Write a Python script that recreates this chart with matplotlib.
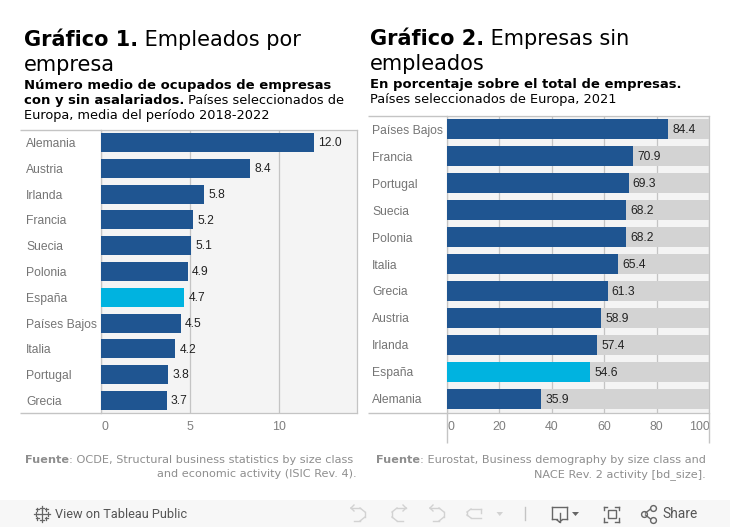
import matplotlib
matplotlib.use("Agg")
import matplotlib.pyplot as plt
from matplotlib.patches import Rectangle, Polygon
from matplotlib.lines import Line2D
from matplotlib.transforms import ScaledTranslation

W, H = 730, 527
BLUE = "#1f5591"; CYAN = "#00b3e0"; PANEL = "#f4f4f4"; REST = "#d3d3d3"; GRID = "#c4c4c4"
LAB = "#757575"; TICK = "#7f7f7f"; VAL = "#222222"; FOOT = "#8e8e8e"

countries1 = ["Alemania", "Austria", "Irlanda", "Francia", "Suecia", "Polonia", "España",
              "Países Bajos", "Italia", "Portugal", "Grecia"]
values1 = [12.0, 8.4, 5.8, 5.2, 5.1, 4.9, 4.7, 4.5, 4.2, 3.8, 3.7]
ticks1 = [0, 5, 10]

countries2 = ["Países Bajos", "Francia", "Portugal", "Suecia", "Polonia", "Italia", "Grecia",
              "Austria", "Irlanda", "España", "Alemania"]
values2 = [84.4, 70.9, 69.3, 68.2, 68.2, 65.4, 61.3, 58.9, 57.4, 54.6, 35.9]
ticks2 = [0, 20, 40, 60, 80, 100]
total2 = 100

fig = plt.figure(figsize=(W / 100, H / 100), dpi=100, facecolor="white")

def px_axes(x0, y0, x1, y1):
    return fig.add_axes([x0 / W, 1 - y1 / H, (x1 - x0) / W, (y1 - y0) / H])

def fx(x): return x / W
def fy(y): return 1 - y / H

def hline(x0, x1, y, c=GRID, lw=1.0):
    fig.add_artist(Line2D([fx(x0), fx(x1)], [fy(y), fy(y)], color=c, lw=lw, solid_capstyle="butt"))

def vline(x, y0, y1, c=GRID, lw=1.0):
    fig.add_artist(Line2D([fx(x), fx(x)], [fy(y0), fy(y1)], color=c, lw=lw, solid_capstyle="butt"))

def style(ax, cats, ticks, xlim, ylim):
    ax.set_xlim(*xlim)
    ax.set_ylim(*ylim)
    ax.set_facecolor(PANEL)
    ax.set_axisbelow(True)
    ax.grid(axis="x", color=GRID, lw=0.9)
    ax.grid(axis="y", visible=False)
    for s in ax.spines.values():
        s.set_color(GRID); s.set_linewidth(0.9)
    ax.set_yticks(range(len(cats)))
    ax.set_yticklabels(cats, family="Liberation Sans", fontsize=8.7, color=LAB, ha="left")
    ax.set_xticks(ticks)
    ax.set_xticklabels([str(t) for t in ticks], family="Liberation Sans", fontsize=8.9, color=TICK)
    ax.tick_params(axis="both", length=0)
    ax.tick_params(axis="y", pad=53.6)
    ax.tick_params(axis="x", pad=5.5)

def shift(label, dx_px):
    label.set_transform(label.get_transform() + ScaledTranslation(dx_px / 100, 0, fig.dpi_scale_trans))

# ---- Left chart
ax1 = px_axes(100.7, 130.4, 357.3, 413.3)
style(ax1, countries1, ticks1, (0, 14.42), (10.5, -0.469))
shift(ax1.get_xticklabels()[0], 4)
ax1.barh(range(11), values1, height=0.736,
         color=[CYAN if c == "España" else BLUE for c in countries1], zorder=3)
for i, v in enumerate(values1):
    ax1.annotate(f"{v:.1f}", (v, i), xytext=(3, -0.6), textcoords="offset points", va="center",
                 family="Liberation Sans", fontsize=8.64, color=VAL, zorder=4)
hline(20, 100.7, 130.4); hline(20, 100.7, 413.3)

# ---- Right chart
ax2 = px_axes(446.7, 115.7, 709.3, 413.3)
style(ax2, countries2, ticks2, (0, 100), (10.53, -0.493))
shift(ax2.get_xticklabels()[0], 4)
shift(ax2.get_xticklabels()[-1], -10)
ax2.barh(range(11), [total2 - v for v in values2], left=values2, height=0.74, color=REST, zorder=3)
ax2.barh(range(11), values2, height=0.74,
         color=[CYAN if c == "España" else BLUE for c in countries2], zorder=4)
for i, v in enumerate(values2):
    ax2.annotate(f"{v:.1f}", (v, i), xytext=(3, -0.6), textcoords="offset points", va="center",
                 family="Liberation Sans", fontsize=8.64, color=VAL, zorder=5)
hline(368, 446.7, 115.7); hline(368, 446.7, 413.3)
vline(446.7, 413.3, 443); vline(709.3, 413.3, 443)

# ---- Titles
def text(x, y, s, size, weight="normal", color="black", ha="left", family="DejaVu Sans"):
    return fig.text(fx(x), fy(y), s, fontsize=size, fontweight=weight, color=color, ha=ha,
                    va="baseline", family=family)

def run(x, y, parts, sizes, color="black", ha_right=None):
    """Write bold/regular runs one after another on a line."""
    r = fig.canvas.get_renderer()
    widths = []; arts = []
    for (s, w), size in zip(parts, sizes):
        t = text(x, y, s, size, w, color)
        arts.append(t); widths.append(t.get_window_extent(r).width)
    total = sum(widths)
    start = x if ha_right is None else ha_right - total
    for t, wd in zip(arts, widths):
        t.set_x(fx(start)); start += wd

TS = 15.05; SB = 9.46; SR = 9.3
run(24, 46, [("Gráfico 1.", "bold"), (" Empleados por", "normal")], [TS, TS])
text(24, 71, "empresa", TS)
text(24, 89, "Número medio de ocupados de empresas", SB, "bold")
run(24, 104, [("con y sin asalariados.", "bold"), (" Países seleccionados de", "normal")], [SB, SR])
text(24, 119, "Europa, media del período 2018-2022", SR)

run(370, 45, [("Gráfico 2.", "bold"), (" Empresas sin", "normal")], [TS, TS])
text(370, 70, "empleados", TS)
text(370, 88, "En porcentaje sobre el total de empresas.", SB, "bold")
text(370, 103, "Países seleccionados de Europa, 2021", SR)

# ---- Sources
FS = 8.08
run(0, 463, [("Fuente", "bold"), (": OCDE, Structural business statistics by size class", "normal")], [FS, FS], FOOT, ha_right=353.5)
text(357, 477, "and economic activity (ISIC Rev. 4).", FS, color=FOOT, ha="right")
run(0, 463, [("Fuente", "bold"), (": Eurostat, Business demography by size class and", "normal")], [FS, FS], FOOT, ha_right=706)
text(705.5, 477, "NACE Rev. 2 activity [bd_size].", FS, color=FOOT, ha="right")

# ---- Footer bar
fig.add_artist(Rectangle((0, 0), 1, 27 / H, transform=fig.transFigure, facecolor="#f7f7f7", edgecolor="none"))
text(55, 518, "View on Tableau Public", 9.2, "normal", "#555555", family="Roboto")
text(662.5, 518, "Share", 9.9, "normal", "#555555", family="Roboto")

def seg(x0, y0, x1, y1, c="#666666", lw=1.0):
    fig.add_artist(Line2D([fx(x0), fx(x1)], [fy(y0), fy(y1)], color=c, lw=lw))

def tri(x0, x1, y0, y1, c):
    fig.add_artist(Polygon([(fx(x0), fy(y0)), (fx(x1), fy(y0)), (fx((x0 + x1) / 2), fy(y1))],
                           closed=True, transform=fig.transFigure, facecolor=c, edgecolor="none"))

# Tableau mark
for (cx, cy, r) in [(41.5, 513.5, 3.5), (35.5, 513.5, 2), (47.5, 513.5, 2), (41.5, 507.5, 2), (41.5, 519.5, 2),
                    (37, 509, 1.5), (46, 509, 1.5), (37, 518, 1.5), (46, 518, 1.5)]:
    seg(cx - r, cy, cx + r, cy, lw=0.9); seg(cx, cy - r, cx, cy + r, lw=0.9)

# Undo / redo / revert / refresh
LIGHT = "#d2d2d2"
for x0, x1, tip in [(351, 360, 1), (406, 397, -1), (430, 439, 1)]:
    seg(x0, 508, x1, 508, LIGHT); seg(x1, 508, x1 + 5 * tip, 512, LIGHT)
    seg(x1 + 5 * tip, 512, x1 + 5 * tip, 517, LIGHT); seg(x1 + 5 * tip, 517, x1, 521, LIGHT)
    seg(x1, 521, x0 + 3 * tip, 521, LIGHT)
    seg(x0, 508, x0 + 3 * tip, 505, LIGHT); seg(x0, 508, x0 + 3 * tip, 511, LIGHT)
seg(471, 509, 481, 509, LIGHT); seg(471, 518, 481, 518, LIGHT); seg(467, 512, 467, 515, LIGHT)
seg(467, 512, 471, 509, LIGHT); seg(467, 515, 471, 518, LIGHT); seg(481, 509, 481, 513, LIGHT)
tri(496.5, 503, 512, 516, LIGHT)
seg(525.4, 507, 525.4, 520, "#c4c4c4")

# Download
seg(552, 507, 567, 507); seg(552, 507, 552, 519); seg(567, 507, 567, 519)
seg(552, 519, 557, 519); seg(562, 519, 567, 519); seg(559.5, 513, 559.5, 522)
seg(557, 520, 559.5, 522); seg(562, 520, 559.5, 522)
tri(572, 579, 512, 516, "#666666")

# Fullscreen
fig.add_artist(Rectangle((fx(607.5), fy(518)), 8 / W, 8 / H, transform=fig.transFigure,
                         facecolor="none", edgecolor="#666666", lw=1.0))
for x, dx in [(603.5, 3.5), (618.5, -3.5)]:
    for y in (506.5, 521.5):
        seg(x, y, x + dx, y)
    seg(x, 506.5, x, 510); seg(x, 518, x, 521.5)

# Share
for cx, cy in [(643.5, 514), (652.5, 508), (652.5, 520)]:
    fig.add_artist(Line2D([fx(cx)], [fy(cy)], marker="o", ms=4.2, mfc="none", mec="#666666", mew=1.0))
seg(645.5, 513, 650.5, 509); seg(645.5, 515, 650.5, 519)

fig.savefig("out.png", dpi=100, facecolor="white")
